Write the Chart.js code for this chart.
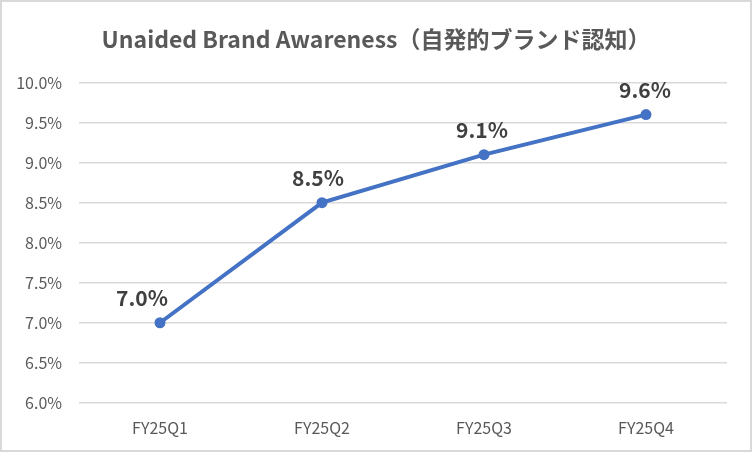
<!DOCTYPE html>
<html>
<head>
<meta charset="utf-8">
<script src="https://cdn.jsdelivr.net/npm/chart.js@4.4.1/dist/chart.umd.min.js"></script>
<style>
  html, body { margin: 0; padding: 0; background: #fff; }
  #wrap {
    width: 752px; height: 452px; box-sizing: border-box;
    border: 2px solid #d9d9d9; background: #fff;
  }
  #wrap canvas { display: block; }
</style>
</head>
<body>
<div id="wrap"><canvas id="myChart" width="748" height="448"></canvas></div>
<script>
var quarters = ['FY25Q1', 'FY25Q2', 'FY25Q3', 'FY25Q4'];
var awareness = [7.0, 8.5, 9.1, 9.6];
var yMin = 6.0;
var yMax = 10.0;
var yStep = 0.5;

var titleText = 'Unaided Brand Awareness（自発的ブランド認知）';

function pct(v) {
  return v.toFixed(1) + '%';
}

// draws the value above each point (no datalabels plugin available offline)
var pointLabels = {
  id: 'pointLabels',
  afterDatasetsDraw: function(chart, args, opts) {
    var ctx = chart.ctx;
    var meta = chart.getDatasetMeta(0);
    ctx.save();
    ctx.font = opts.font;
    ctx.fillStyle = opts.color;
    ctx.textAlign = 'center';
    ctx.textBaseline = 'alphabetic';
    meta.data.forEach(function(pt, i) {
      var dx = opts.shiftX[i] || 0;
      ctx.fillText(pct(awareness[i]), pt.x + dx, pt.y - opts.gap);
    });
    ctx.restore();
  }
};

var ctx = document.getElementById('myChart').getContext('2d');

var chart = new Chart(ctx, {
  type: 'line',
  data: {
    labels: quarters,
    datasets: [{
      label: 'Unaided Brand Awareness',
      data: awareness,
      borderColor: '#4472C4',
      backgroundColor: '#4472C4',
      borderWidth: 4,
      pointRadius: 5.5,
      pointHoverRadius: 5.5,
      pointBorderWidth: 0,
      tension: 0
    }]
  },
  options: {
    responsive: false,
    animation: false,
    events: [],
    layout: {
      padding: { left: 0, right: 0, top: 0, bottom: -4 }
    },
    plugins: {
      legend: { display: false },
      tooltip: { enabled: false },
      title: {
        display: true,
        text: titleText,
        color: '#595959',
        font: { family: '"Noto Sans CJK JP", "Open Sans", sans-serif', size: 23, weight: 'bold' },
        padding: { top: 23, bottom: 30 }
      },
      pointLabels: {
        font: 'bold 21px "Noto Sans CJK JP", "Open Sans", sans-serif',
        color: '#404040',
        gap: 17,
        shiftX: [-18, -4, -2, -1]
      }
    },
    scales: {
      x: {
        offset: true,
        grid: { display: false, drawTicks: false },
        border: { display: false },
        ticks: {
          color: '#595959',
          padding: 16,
          font: { family: '"Noto Sans CJK JP", "Open Sans", sans-serif', size: 16 }
        }
      },
      y: {
        min: yMin,
        max: yMax,
        afterFit: function(scale) { scale.width = 77; },
        grid: { color: '#d9d9d9', lineWidth: 1.5, drawTicks: false },
        border: { display: false },
        ticks: {
          stepSize: yStep,
          color: '#595959',
          padding: 17,
          font: { family: '"Noto Sans CJK JP", "Open Sans", sans-serif', size: 16 },
          callback: function(v) { return pct(v); }
        }
      },
      // empty right-hand axis, only keeps a margin right of the plot
      yRight: {
        position: 'right',
        afterFit: function(scale) { scale.width = 23; },
        grid: { display: false, drawTicks: false },
        border: { display: false },
        ticks: { display: false }
      }
    }
  },
  plugins: [pointLabels]
});
</script>
</body>
</html>
